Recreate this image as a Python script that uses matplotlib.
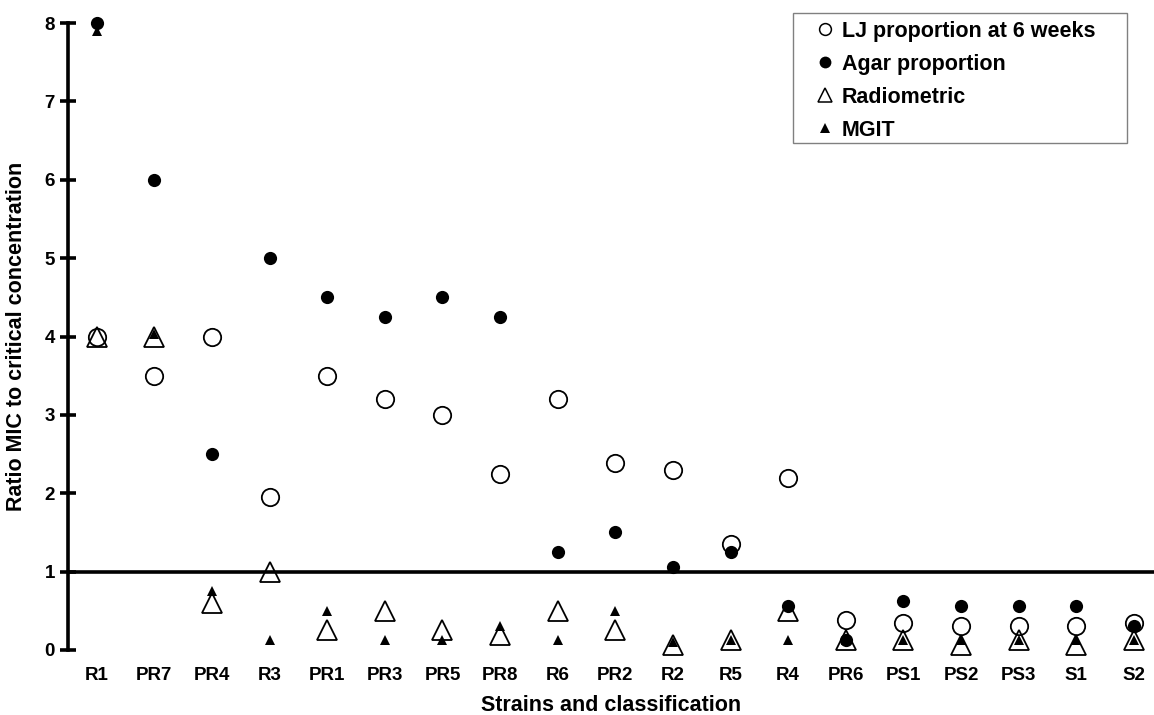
import numpy as np
import matplotlib
matplotlib.use("Agg")
import matplotlib.pyplot as plt
from matplotlib.lines import Line2D
from matplotlib.patches import Rectangle

plt.rcParams["font.family"] = ["Liberation Sans", "DejaVu Sans"]
plt.rcParams["font.weight"] = "bold"

strains = ["R1", "PR7", "PR4", "R3", "PR1", "PR3", "PR5", "PR8", "R6", "PR2",
           "R2", "R5", "R4", "PR6", "PS1", "PS2", "PS3", "S1", "S2"]
lj = [4.0, 3.5, 4.0, 1.95, 3.5, 3.2, 3.0, 2.25, 3.2, 2.38,
      2.3, 1.35, 2.2, 0.38, 0.35, 0.3, 0.3, 0.3, 0.35]
agar = [8.0, 6.0, 2.5, 5.0, 4.5, 4.25, 4.5, 4.25, 1.25, 1.5,
        1.06, 1.25, 0.56, 0.125, 0.62, 0.56, 0.56, 0.56, 0.31]
radiometric = [4.0, 4.0, 0.6, 1.0, 0.25, 0.5, 0.25, 0.19, 0.5, 0.25,
               0.06, 0.125, 0.5, 0.125, 0.125, 0.06, 0.125, 0.06, 0.125]
mgit = [7.9, 4.03, 0.75, 0.125, 0.5, 0.125, 0.125, 0.3, 0.125, 0.5,
        0.1, 0.125, 0.125, 0.125, 0.125, 0.125, 0.125, 0.125, 0.125]
labels = ["LJ proportion at 6 weeks", "Agar proportion", "Radiometric", "MGIT"]

W, H = 1154, 715
fig = plt.figure(figsize=(W / 100, H / 100), dpi=100)
ax = fig.add_axes([68 / W, 65 / H, (W - 68) / W, 627 / H])

x = np.arange(len(strains))
kw = dict(linestyle="none", clip_on=False, color="black")
ax.plot(x, lj, marker="o", ms=12.5, mfc="none", mew=1.3, **kw)
ax.plot(x, agar, marker="o", ms=9.5, mfc="black", mew=0, **kw)
ax.plot(x, radiometric, marker="^", ms=14, mfc="none", mew=1.3, **kw)
ax.plot(x, mgit, marker="^", ms=7.5, mfc="black", mew=0, **kw)

ax.axhline(1, color="black", lw=2.6, zorder=1)

ax.set_xlim(-0.5, 18.35)
ax.set_ylim(0, 8)
ax.set_yticks(range(0, 9))
ax.set_xticks(x)
ax.set_xticklabels(strains)
for s in ["top", "right", "bottom"]:
    ax.spines[s].set_visible(False)
ax.spines["left"].set_linewidth(2.6)
ax.tick_params(axis="y", direction="inout", length=11, width=2.6, pad=4, labelsize=13.5)
ax.tick_params(axis="x", length=0, pad=12, labelsize=13.5)

ax.set_xlabel("Strains and classification", fontsize=15.5, fontweight="bold", labelpad=8.5)
ax.set_ylabel("Ratio MIC to critical concentration", fontsize=15.5, fontweight="bold")
ax.yaxis.set_label_coords(-41 / (W - 68), 0.5)

handles = [
    Line2D([], [], marker="o", ms=8.5, mfc="none", mec="black", mew=1.1, ls="none"),
    Line2D([], [], marker="o", ms=8.5, mfc="black", mec="black", mew=0, ls="none"),
    Line2D([], [], marker="^", ms=10, mfc="none", mec="black", mew=1.1, ls="none"),
    Line2D([], [], marker="^", ms=6.5, mfc="black", mec="black", mew=0, ls="none"),
]
fig.legend(handles, labels, loc="upper left", frameon=False,
           bbox_to_anchor=(814 / W, 1 - 21 / H), borderaxespad=0, borderpad=0,
           labelspacing=0.55, handlelength=1.05, handletextpad=0.25,
           prop={"weight": "bold", "size": 15.5})
fig.add_artist(Rectangle((793 / W, 1 - 143 / H), (1127 - 793) / W, 130 / H,
                         transform=fig.transFigure, fill=False,
                         edgecolor="#808080", lw=1.0))

fig.savefig("out.png", dpi=100)
